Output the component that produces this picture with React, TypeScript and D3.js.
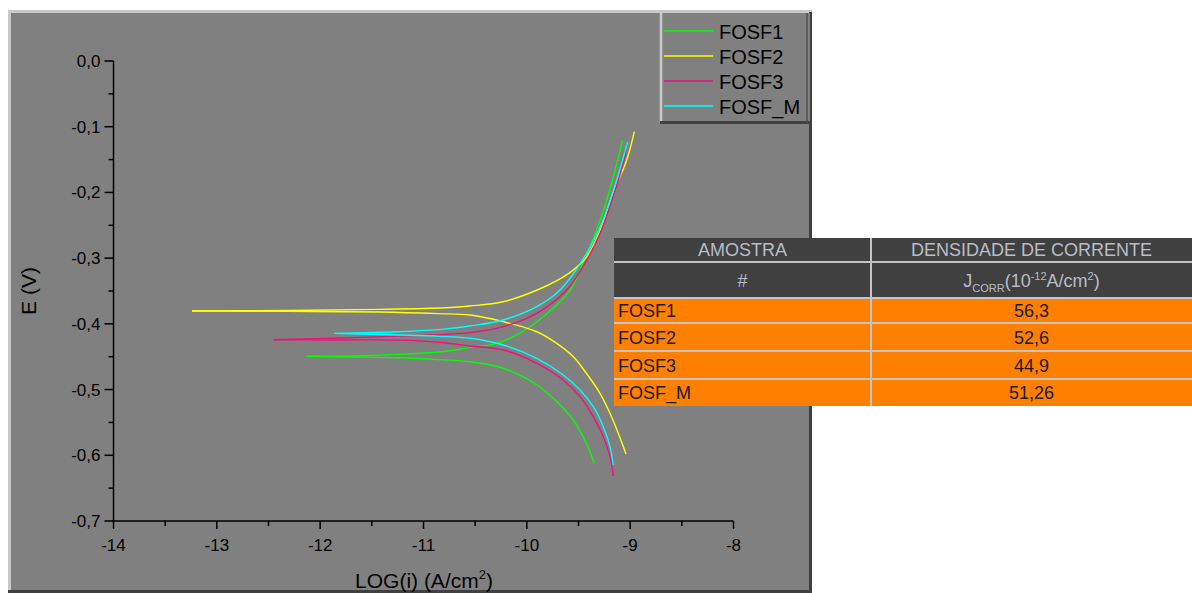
import React from 'react'
import * as d3 from 'd3'

// samples shown in legend and table
const samples = ['FOSF1', 'FOSF2', 'FOSF3', 'FOSF_M']
const colors = ['#00ff00', '#ffff00', '#f0107c', '#00ffff']
const jcorr = ['56,3', '52,6', '44,9', '51,26']

// Tafel branches, [log(i), E]
const fosf1Anodic = [[-12.13, -0.4495], [-11.6, -0.4485], [-11.24, -0.4464], [-10.82, -0.4425], [-10.55, -0.4357], [-10.29, -0.4296], [-10.07, -0.4144], [-9.84, -0.3891], [-9.58, -0.3485], [-9.456, -0.3075], [-9.3, -0.2466], [-9.17, -0.1811], [-9.075, -0.1213]]
const fosf1Cathodic = [[-12.13, -0.4495], [-11.6, -0.4505], [-11.24, -0.4516], [-10.85, -0.4545], [-10.55, -0.4576], [-10.23, -0.4676], [-9.9, -0.493], [-9.71, -0.5185], [-9.55, -0.5463], [-9.424, -0.5818], [-9.347, -0.6122]]
const fosf2Anodic = [[-13.24, -0.3805], [-12.3, -0.3795], [-11.43, -0.378], [-10.78, -0.3755], [-10.55, -0.3728], [-10.23, -0.3663], [-9.9, -0.3485], [-9.59, -0.3227], [-9.42, -0.2979], [-9.29, -0.2572], [-9.166, -0.2009], [-9.033, -0.1507], [-8.96, -0.1076]]
const fosf2Cathodic = [[-13.24, -0.3805], [-12.3, -0.381], [-11.43, -0.382], [-10.85, -0.3845], [-10.55, -0.3865], [-10.228, -0.3967], [-9.904, -0.412], [-9.711, -0.4296], [-9.55, -0.45], [-9.424, -0.4752], [-9.292, -0.5057], [-9.195, -0.5361], [-9.115, -0.5665], [-9.04, -0.5981]]
const fosf3Anodic = [[-12.45, -0.4242], [-11.8, -0.4215], [-11.24, -0.4186], [-10.8, -0.416], [-10.55, -0.4134], [-10.23, -0.4043], [-9.904, -0.384], [-9.614, -0.3485], [-9.42, -0.3029], [-9.29, -0.2618], [-9.166, -0.2065], [-9.06, -0.1507], [-9.04, -0.135]]
const fosf3Cathodic = [[-12.45, -0.4242], [-11.8, -0.4245], [-11.24, -0.4247], [-10.85, -0.428], [-10.55, -0.4337], [-10.228, -0.4398], [-9.904, -0.46], [-9.647, -0.4854], [-9.485, -0.5108], [-9.357, -0.5413], [-9.26, -0.5717], [-9.195, -0.602], [-9.163, -0.6315]]
const fosfMAnodic = [[-11.86, -0.4145], [-11.24, -0.412], [-10.8, -0.408], [-10.55, -0.4033], [-10.228, -0.3941], [-9.904, -0.3739], [-9.679, -0.3485], [-9.42, -0.2922], [-9.262, -0.242], [-9.13, -0.1811], [-9.024, -0.1228]]
const fosfMCathodic = [[-11.86, -0.4145], [-11.24, -0.417], [-10.85, -0.419], [-10.55, -0.422], [-10.228, -0.4322], [-9.904, -0.4524], [-9.647, -0.4778], [-9.485, -0.5006], [-9.357, -0.5261], [-9.26, -0.5565], [-9.195, -0.5869], [-9.163, -0.6148]]

const branches = [
  [fosf1Anodic, fosf1Cathodic],
  [fosf2Anodic, fosf2Cathodic],
  [fosf3Anodic, fosf3Cathodic],
  [fosfMAnodic, fosfMCathodic],
]

const xTicks = [-14, -13, -12, -11, -10, -9, -8]
const yTicks = [0, -0.1, -0.2, -0.3, -0.4, -0.5, -0.6, -0.7]
const yTickLabels = ['0,0', '-0,1', '-0,2', '-0,3', '-0,4', '-0,5', '-0,6', '-0,7']

const font = "'Liberation Sans', Arial, sans-serif"

export default function App() {
  const x = d3.scaleLinear().domain([-14, -8]).range([113.5, 733.5])
  const y = d3.scaleLinear().domain([-0.7, 0]).range([521, 61])
  const line = d3.line<number[]>()
    .x(d => x(d[0]))
    .y(d => y(d[1]))
    .curve(d3.curveCatmullRom.alpha(0.5))

  const xMinor = d3.range(-14, -8, 0.5).filter(v => !Number.isInteger(v))
  const yMinor = d3.range(0, 7).map(i => -0.05 - i * 0.1)

  // table geometry
  const tx0 = 614, tx1 = 1192, tcol = 871
  const rowEdges = [238, 262, 298, 323, 351, 379, 406]

  return (
    <svg width={1192} height={593} style={{ position: 'absolute', left: 0, top: 0 }} fontFamily={font}>
      <rect width={1192} height={593} fill="#fff" />

      {/* plot panel */}
      <rect x={8} y={10} width={804} height={583} fill="#808080" />
      <line x1={8} y1={11.5} x2={812} y2={11.5} stroke="#c8c8c8" strokeWidth={3} />
      <line x1={9.5} y1={10} x2={9.5} y2={593} stroke="#c8c8c8" strokeWidth={3} />
      <line x1={810.5} y1={12} x2={810.5} y2={593} stroke="#404040" strokeWidth={3} />
      <line x1={8} y1={591.5} x2={812} y2={591.5} stroke="#404040" strokeWidth={3} />

      {/* axes */}
      <g stroke="#000" strokeWidth={1.5}>
        <line x1={x(-14)} y1={y(0)} x2={x(-14)} y2={y(-0.7) + 0.75} />
        <line x1={x(-14) - 0.75} y1={y(-0.7)} x2={x(-8)} y2={y(-0.7)} />
        {yTicks.map(t => <line key={t} x1={x(-14) - 9} x2={x(-14)} y1={y(t)} y2={y(t)} />)}
        {yMinor.map(t => <line key={t} x1={x(-14) - 5} x2={x(-14)} y1={y(t)} y2={y(t)} />)}
        {xTicks.map(t => <line key={t} x1={x(t)} x2={x(t)} y1={y(-0.7)} y2={y(-0.7) + 8} />)}
        {xMinor.map(t => <line key={t} x1={x(t)} x2={x(t)} y1={y(-0.7)} y2={y(-0.7) + 5} />)}
      </g>
      <g fontSize={17} fill="#000">
        {yTicks.map((t, i) => (
          <text key={t} x={x(-14) - 13} y={y(t) + 6} textAnchor="end">{yTickLabels[i]}</text>
        ))}
        {xTicks.map(t => (
          <text key={t} x={x(t)} y={551} textAnchor="middle">{t}</text>
        ))}
      </g>
      <text x={424} y={588} fontSize={21} textAnchor="middle">
        LOG(i) (A/cm<tspan fontSize={13} dy={-9}>2</tspan><tspan dy={9}>)</tspan>
      </text>
      <text transform="translate(36,291) rotate(-90)" fontSize={21} textAnchor="middle">E (V)</text>

      {/* curves */}
      {branches.map((b, i) => (
        <g key={samples[i]} fill="none" stroke={colors[i]} strokeWidth={1.4}>
          {b.map((pts, j) => <path key={j} d={line(pts) || ''} />)}
        </g>
      ))}

      {/* legend */}
      <rect x={660} y={13} width={150} height={111} fill="#808080" />
      <line x1={661} y1={13} x2={661} y2={123} stroke="#c8c8c8" strokeWidth={2.5} />
      <line x1={660} y1={122.5} x2={812} y2={122.5} stroke="#404040" strokeWidth={3} />
      <line x1={807} y1={13} x2={807} y2={123} stroke="#505050" strokeWidth={1.5} />
      {samples.map((s, i) => (
        <g key={s}>
          <line x1={664} x2={713} y1={31 + i * 25} y2={31 + i * 25} stroke={colors[i]} strokeWidth={1.4} />
          <text x={719} y={38.5 + i * 25} fontSize={20} fill="#000">{s}</text>
        </g>
      ))}

      {/* table */}
      <rect x={tx0} y={rowEdges[0]} width={tx1 - tx0} height={rowEdges[2] - rowEdges[0]} fill="#404040" />
      <rect x={tx0} y={rowEdges[2]} width={tx1 - tx0} height={rowEdges[6] - rowEdges[2]} fill="#ff8000" />
      <g stroke="#c4c4c4" strokeWidth={2}>
        {rowEdges.slice(1, 6).map(r => <line key={r} x1={tx0} x2={tx1} y1={r} y2={r} />)}
        <line x1={tcol} x2={tcol} y1={rowEdges[0]} y2={rowEdges[6]} />
      </g>
      <g fontSize={18} fill="#b8bcc8" textAnchor="middle">
        <text x={(tx0 + tcol) / 2} y={256}>AMOSTRA</text>
        <text x={(tcol + tx1) / 2} y={256}>DENSIDADE DE CORRENTE</text>
        <text x={(tx0 + tcol) / 2} y={287}>#</text>
        <text x={(tcol + tx1) / 2} y={287}>
          J<tspan fontSize={11} dy={5}>CORR</tspan><tspan dy={-5}>(10</tspan><tspan fontSize={11} dy={-7}>-12</tspan><tspan dy={7}>A/cm</tspan><tspan fontSize={11} dy={-7}>2</tspan><tspan dy={7}>)</tspan>
        </text>
      </g>
      <g fontSize={18} fill="#1a1a1a">
        {samples.map((s, i) => {
          const yMid = (rowEdges[i + 2] + rowEdges[i + 3]) / 2
          return (
            <g key={s}>
              <text x={618} y={yMid + 6.5}>{s}</text>
              <text x={(tcol + tx1) / 2} y={yMid + 6.5} textAnchor="middle">{jcorr[i]}</text>
            </g>
          )
        })}
      </g>
    </svg>
  )
}
